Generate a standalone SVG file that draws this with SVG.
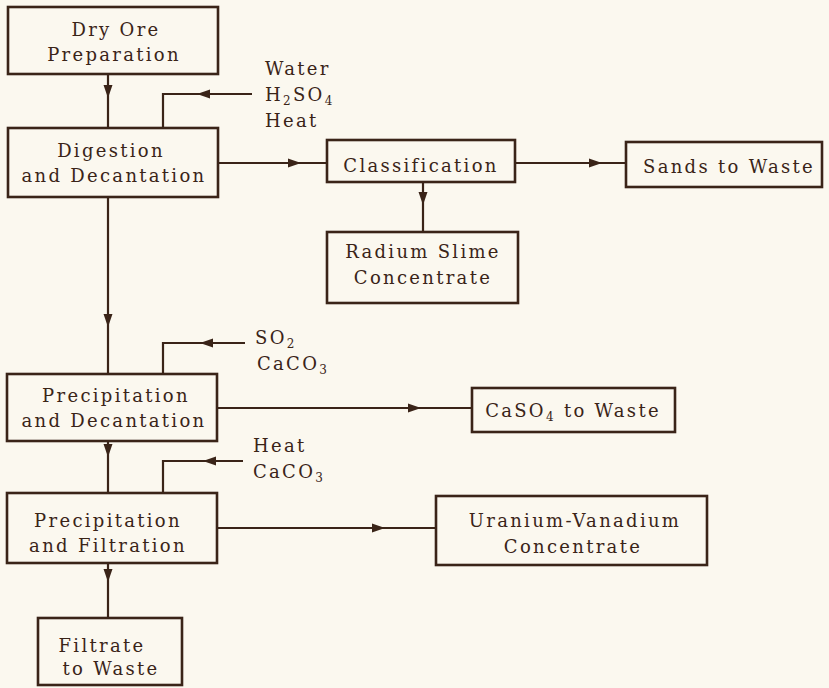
<svg xmlns="http://www.w3.org/2000/svg" xmlns:xlink="http://www.w3.org/1999/xlink" width="829" height="688" viewBox="0 0 829 688">
<style>
.box{fill:none;stroke:#3a2418;stroke-width:2.6}
.ln{fill:none;stroke:#3a2418;stroke-width:2.2}
.ah{fill:#3a2418}
text{font-family:"DejaVu Serif","Liberation Serif",serif;font-size:18px;fill:#3a2418;letter-spacing:2.3px}
.c{text-anchor:middle}
.sub{font-size:12px}
</style>
<defs>
<path id="ah" class="ah" d="M0,0 L-13,-4.5 L-13,4.5 Z"/>
</defs>
<rect width="829" height="688" fill="#fbf8ef"/>
<g id="connectors">
<path class="ln" d="M108,74 L108,128"/>
<use xlink:href="#ah" href="#ah" transform="translate(108,98) rotate(90)"/>
<path class="ln" d="M252,94 L163,94 L163,128"/>
<use xlink:href="#ah" href="#ah" transform="translate(197,94) rotate(180)"/>
<path class="ln" d="M218,163 L327,163"/>
<use xlink:href="#ah" href="#ah" transform="translate(301,163)"/>
<path class="ln" d="M515,163 L626,163"/>
<use xlink:href="#ah" href="#ah" transform="translate(602,163)"/>
<path class="ln" d="M423,182 L423,232"/>
<use xlink:href="#ah" href="#ah" transform="translate(423,205) rotate(90)"/>
<path class="ln" d="M108,197 L108,374"/>
<use xlink:href="#ah" href="#ah" transform="translate(108,327) rotate(90)"/>
<path class="ln" d="M245,343 L163,343 L163,374"/>
<use xlink:href="#ah" href="#ah" transform="translate(200,343) rotate(180)"/>
<path class="ln" d="M217,408 L472,408"/>
<use xlink:href="#ah" href="#ah" transform="translate(421,408)"/>
<path class="ln" d="M108,441 L108,493"/>
<use xlink:href="#ah" href="#ah" transform="translate(108,457) rotate(90)"/>
<path class="ln" d="M243,461 L163,461 L163,493"/>
<use xlink:href="#ah" href="#ah" transform="translate(203,461) rotate(180)"/>
<path class="ln" d="M217,528 L436,528"/>
<use xlink:href="#ah" href="#ah" transform="translate(385,528)"/>
<path class="ln" d="M108,563 L108,618"/>
<use xlink:href="#ah" href="#ah" transform="translate(108,582) rotate(90)"/>
</g>
<g id="dry-ore">
<rect class="box" x="8" y="7" width="210" height="67"/>
<text class="c" x="116" y="36">Dry Ore</text>
<text class="c" x="114" y="61">Preparation</text>
</g>
<g id="feed1">
<text x="265" y="75">Water</text>
<text x="265" y="101">H<tspan class="sub" dy="4">2</tspan><tspan dy="-4">SO</tspan><tspan class="sub" dy="4">4</tspan></text>
<text x="265" y="127">Heat</text>
</g>
<g id="digestion">
<rect class="box" x="8" y="128" width="210" height="69"/>
<text class="c" x="111" y="157">Digestion</text>
<text class="c" x="114" y="182">and Decantation</text>
</g>
<g id="classification">
<rect class="box" x="327" y="140" width="188" height="42"/>
<text class="c" x="421" y="172">Classification</text>
</g>
<g id="sands">
<rect class="box" x="626" y="142" width="196" height="45"/>
<text class="c" x="729" y="173">Sands to Waste</text>
</g>
<g id="radium">
<rect class="box" x="327" y="232" width="191" height="71"/>
<text class="c" x="423" y="258">Radium Slime</text>
<text class="c" x="423" y="284">Concentrate</text>
</g>
<g id="feed2">
<text x="255" y="344">SO<tspan class="sub" dy="4">2</tspan></text>
<text x="257" y="370">CaCO<tspan class="sub" dy="4">3</tspan></text>
</g>
<g id="precip-decant">
<rect class="box" x="7" y="374" width="210" height="67"/>
<text class="c" x="116" y="402">Precipitation</text>
<text class="c" x="114" y="427">and Decantation</text>
</g>
<g id="caso4">
<rect class="box" x="472" y="388" width="203" height="44"/>
<text class="c" x="573" y="417">CaSO<tspan class="sub" dy="4">4</tspan><tspan dy="-4"> to Waste</tspan></text>
</g>
<g id="feed3">
<text x="253" y="452">Heat</text>
<text x="253" y="478">CaCO<tspan class="sub" dy="4">3</tspan></text>
</g>
<g id="precip-filt">
<rect class="box" x="7" y="493" width="210" height="70"/>
<text class="c" x="108" y="527">Precipitation</text>
<text class="c" x="108" y="552">and Filtration</text>
</g>
<g id="uv">
<rect class="box" x="436" y="496" width="271" height="69"/>
<text class="c" x="575" y="527">Uranium-Vanadium</text>
<text class="c" x="573" y="553">Concentrate</text>
</g>
<g id="filtrate">
<rect class="box" x="38" y="618" width="144" height="67"/>
<text class="c" x="102" y="652">Filtrate</text>
<text class="c" x="111" y="675">to Waste</text>
</g>
</svg>
